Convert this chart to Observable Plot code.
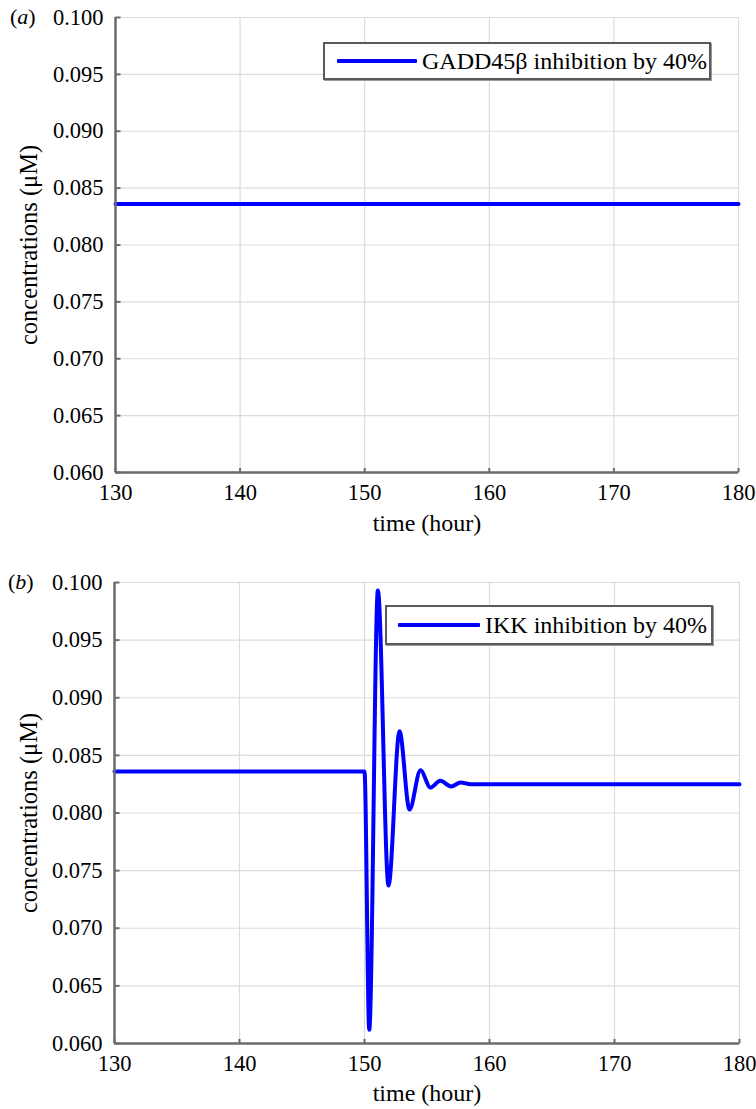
<!DOCTYPE html>
<html>
<head>
<meta charset="utf-8">
<script src="https://cdn.jsdelivr.net/npm/d3@7"></script>
<script src="https://cdn.jsdelivr.net/npm/@observablehq/plot@0.6"></script>
<style>
  html, body { margin: 0; padding: 0; background: #fff; }
  body { font-family: "Liberation Serif", "Times New Roman", serif; color: #000; }
  #wrap { position: relative; width: 756px; height: 1109px; overflow: hidden; }
  .panel { position: absolute; left: 0; width: 756px; }
  .legend { position: absolute; box-sizing: border-box; border: 2px solid #5a5a5a; background: #fff;
            box-shadow: 1px 1px 0 #9a9a9a; display: flex; align-items: center; font-size: 24px; white-space: nowrap; }
  .legend .swatch { display: inline-block; height: 4px; background: #0000ff; border-radius: 1px; }
  .plabel { position: absolute; font-size: 22px; line-height: 1; }
</style>
</head>
<body>
<div id="wrap"></div>
<script>
// ---- data ----
const xTicks = [130, 140, 150, 160, 170, 180];
const yTicks = [0.060, 0.065, 0.070, 0.075, 0.080, 0.085, 0.090, 0.095, 0.100];

// panel (a): GADD45β inhibition by 40%
const timeA = [130, 180];
const concA = [0.0836, 0.0836];

// panel (b): IKK inhibition by 40%
const timeB = [130, 150, 150.38, 151.07, 151.92, 152.8, 153.6, 154.48, 155.28, 156.06, 156.94, 157.68, 158.5, 160, 180];
const concB = [0.0836, 0.0836, 0.0612, 0.0993, 0.0737, 0.0871, 0.0803, 0.0837, 0.0822, 0.0828, 0.0823, 0.08265, 0.0825, 0.0825, 0.0825];

const legendA = "GADD45β inhibition by 40%";
const legendB = "IKK inhibition by 40%";
const yLabel = "concentrations (μM)";
const xLabel = "time (hour)";

// ---- drawing ----
const wrap = document.getElementById("wrap");
const frameColor = "#6b6b6b";
const gridColor = "#dcdcdc";

function makePanel(time, conc, m, h) {
  const data = time.map((t, i) => ({t, c: conc[i]}));
  return Plot.plot({
    width: 756, height: h,
    marginLeft: m.l, marginRight: m.r, marginTop: m.t, marginBottom: m.b,
    style: {fontFamily: '"Liberation Serif", "Times New Roman", serif', fontSize: "22.5px", color: "#000", background: "#fff", overflow: "visible"},
    x: {domain: [130, 180], label: null},
    y: {domain: [0.060, 0.100], label: null},
    marks: [
      Plot.gridX({ticks: xTicks, stroke: gridColor, strokeOpacity: 1, strokeWidth: 1.2}),
      Plot.gridY({ticks: yTicks, stroke: gridColor, strokeOpacity: 1, strokeWidth: 1.2}),
      Plot.line(data, {x: "t", y: "c", stroke: "#0000ff", strokeWidth: 4, curve: "monotone-x", strokeLinejoin: "round"}),
      Plot.link(yTicks, {x1: 130, x2: 130.4, y1: d => d, y2: d => d, stroke: frameColor, strokeWidth: 2}),
      Plot.link(xTicks, {x1: d => d, x2: d => d, y1: 0.060, y2: 0.0604, stroke: frameColor, strokeWidth: 2}),
      Plot.ruleX([130], {stroke: frameColor, strokeWidth: 2.5}),
      Plot.ruleY([0.060], {stroke: frameColor, strokeWidth: 2.5}),
      Plot.axisY({ticks: yTicks, tickSize: 0, tickPadding: 12, tickFormat: d3.format(".3f"), fontSize: 22.5, label: null}),
      Plot.axisY({ticks: [], tickSize: 0, label: yLabel, labelAnchor: "center", labelArrow: "none",
                  labelOffset: m.l - 19, fontSize: 24.5}),
      Plot.axisX({ticks: xTicks, tickSize: 0, tickPadding: 12, tickFormat: d3.format("d"), fontSize: 22.5, label: null}),
      Plot.axisX({ticks: [], tickSize: 0, label: xLabel, labelAnchor: "center", labelArrow: "none",
                  labelOffset: m.lab, fontSize: 24})
    ]
  });
}

function addPanel(top, h, m, time, conc, legendText, leg, tag) {
  const div = document.createElement("div");
  div.className = "panel";
  div.style.top = top + "px";
  div.style.height = h + "px";
  div.appendChild(makePanel(time, conc, m, h));
  wrap.appendChild(div);

  const lg = document.createElement("div");
  lg.className = "legend";
  lg.style.left = leg.x + "px"; lg.style.top = leg.y + "px";
  lg.style.width = leg.w + "px"; lg.style.height = leg.h + "px";
  const sw = document.createElement("span");
  sw.className = "swatch";
  sw.style.width = leg.sw + "px";
  sw.style.marginLeft = leg.pad + "px";
  sw.style.marginRight = "5px";
  const tx = document.createElement("span");
  tx.textContent = legendText;
  lg.appendChild(sw); lg.appendChild(tx);
  wrap.appendChild(lg);

  const pl = document.createElement("div");
  pl.className = "plabel";
  pl.style.left = tag.x + "px"; pl.style.top = tag.y + "px";
  pl.innerHTML = "(<i>" + tag.t + "</i>)";
  wrap.appendChild(pl);
}

addPanel(0, 550, {l: 115, r: 18, t: 17, b: 78, lab: 58}, timeA, concA, legendA,
         {x: 323, y: 42, w: 388, h: 38, sw: 80, pad: 12}, {x: 10, y: 6, t: "a"});
addPanel(555, 554, {l: 114, r: 17, t: 27, b: 66, lab: 57}, timeB, concB, legendB,
         {x: 385, y: 605, w: 328, h: 40, sw: 82, pad: 11}, {x: 8, y: 571, t: "b"});
</script>
</body>
</html>
